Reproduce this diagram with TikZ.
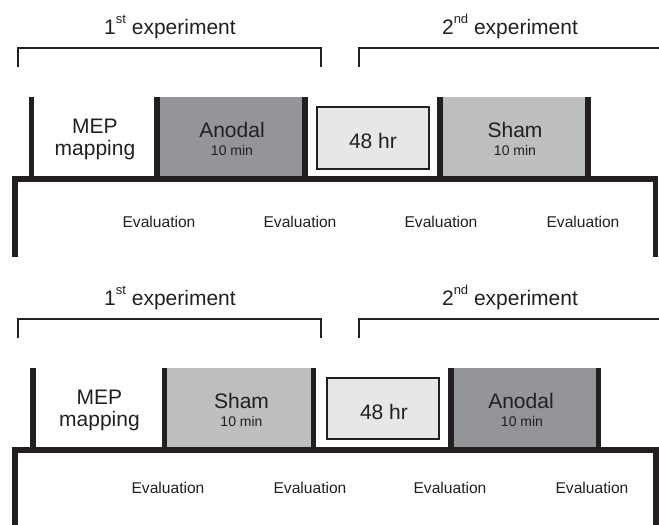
\documentclass[tikz,border=0pt]{standalone}
\usepackage{fontspec}
\setmainfont{Liberation Sans}
\definecolor{ink}{HTML}{231F20}
\definecolor{anodalgray}{HTML}{939598}
\definecolor{shamgray}{HTML}{BCBEC0}
\definecolor{restgray}{HTML}{E6E7E8}
% raised ordinal suffix (1st, 2nd)
\newcommand\expsup[1]{\raisebox{11pt}{\fontsize{13}{13}\selectfont #1}}

\begin{document}
\begin{tikzpicture}[x=1pt,y=-1pt,
  heavy/.style={line width=5.5pt, draw=ink, line join=miter},
  bracketline/.style={line width=1.4pt, draw=ink},
  cellbox/.style={inner sep=0pt, outer sep=0pt, minimum height=82pt},
  restbox/.style={inner sep=0pt, outer sep=0pt, minimum width=112pt, minimum height=62pt,
                  fill=restgray, draw=ink, line width=1.2pt},
  lbl/.style={text=ink, inner sep=0pt, anchor=base},
  bigtext/.style={font=\fontsize{21}{21}\selectfont},
  smalltext/.style={font=\fontsize{14}{14}\selectfont},
  evaltext/.style={font=\fontsize{15.6}{15.6}\selectfont},
]
\useasboundingbox (0,0) rectangle (659,525);

% ---------------- upper schedule: anodal first ----------------
\node[lbl,bigtext] (h1a) at (170,34) {1\expsup{st} experiment};
\node[lbl,bigtext] (h2a) at (510,34) {2\expsup{nd} experiment};
\coordinate (b1a-l) at (18,67);
\coordinate (b1a-r) at (321,67);
\draw[bracketline] (b1a-l) -- ++(0,-19) -| (b1a-r);
\coordinate (b2a-l) at (359,67);
\coordinate (b2a-r) at (659,48);
\draw[bracketline] (b2a-l) |- (b2a-r);

\node[cellbox, minimum width=125.5pt] (mep-a) at (94.25,138) {};
\node[cellbox, fill=anodalgray, minimum width=148pt] (an-a) at (231,138) {};
\node[restbox] (rest-a) at (373,138) {};
\node[cellbox, fill=shamgray, minimum width=148pt] (sh-a) at (514,138) {};

\draw[heavy] (mep-a.north west) -- (mep-a.south west);
\draw[heavy] (an-a.north west) -- (an-a.south west);
\draw[heavy] (an-a.north east) -- (an-a.south east);
\draw[heavy] (sh-a.north west) -- (sh-a.south west);
\draw[heavy] (sh-a.north east) -- (sh-a.south east);

\coordinate (base-a-l) at (15,257);
\coordinate (base-a-r) at (655.5,257);
\draw[heavy] (base-a-l) -- ++(0,-78) -- ++(640.5,0) -- (base-a-r);

\node[lbl,bigtext] (mep-a-t1) at (95,133) {MEP};
\node[lbl,bigtext] (mep-a-t2) at (95,155) {mapping};
\node[lbl,bigtext] (an-a-t1) at (232,137) {Anodal};
\node[lbl,smalltext] (an-a-t2) at (232,155.5) {10 min};
\node[lbl,bigtext] (rest-a-t) at (373,148) {48 hr};
\node[lbl,bigtext] (sh-a-t1) at (515,137) {Sham};
\node[lbl,smalltext] (sh-a-t2) at (515,155.5) {10 min};

\node[lbl,evaltext] (ev-a1) at (159,227.5) {Evaluation};
\node[lbl,evaltext] (ev-a2) at (300,227.5) {Evaluation};
\node[lbl,evaltext] (ev-a3) at (441,227.5) {Evaluation};
\node[lbl,evaltext] (ev-a4) at (583,227.5) {Evaluation};

% ---------------- lower schedule: sham first ----------------
\begin{scope}[shift={(0,271)}]
\node[lbl,bigtext] (h1b) at (170,34) {1\expsup{st} experiment};
\node[lbl,bigtext] (h2b) at (510,34) {2\expsup{nd} experiment};
\coordinate (b1b-l) at (18,67);
\coordinate (b1b-r) at (321,67);
\draw[bracketline] (b1b-l) -- ++(0,-19) -| (b1b-r);
\coordinate (b2b-l) at (359,67);
\coordinate (b2b-r) at (659,48);
\draw[bracketline] (b2b-l) |- (b2b-r);

\node[cellbox, minimum width=131.5pt] (mep-b) at (98.75,138) {};
\node[cellbox, fill=shamgray, minimum width=149pt] (sh-b) at (239,138) {};
\node[restbox, minimum height=61pt] (rest-b) at (383,137.5) {};
\node[cellbox, fill=anodalgray, minimum width=147.5pt] (an-b) at (524.75,138) {};

\draw[heavy] (mep-b.north west) -- (mep-b.south west);
\draw[heavy] (sh-b.north west) -- (sh-b.south west);
\draw[heavy] (sh-b.north east) -- (sh-b.south east);
\draw[heavy] (an-b.north west) -- (an-b.south west);
\draw[heavy] (an-b.north east) -- (an-b.south east);

\coordinate (base-b-l) at (15,254);
\coordinate (base-b-r) at (656,254);
\draw[heavy] (base-b-l) -- ++(0,-75) -- ++(641,0) -- (base-b-r);

\node[lbl,bigtext] (mep-b-t1) at (99.5,133) {MEP};
\node[lbl,bigtext] (mep-b-t2) at (99.5,155) {mapping};
\node[lbl,bigtext] (sh-b-t1) at (241.5,137) {Sham};
\node[lbl,smalltext] (sh-b-t2) at (241.5,155.5) {10 min};
\node[lbl,bigtext] (rest-b-t) at (384,148) {48 hr};
\node[lbl,bigtext] (an-b-t1) at (521,137) {Anodal};
\node[lbl,smalltext] (an-b-t2) at (522,155.5) {10 min};

\node[lbl,evaltext] (ev-b1) at (168,222) {Evaluation};
\node[lbl,evaltext] (ev-b2) at (310,222) {Evaluation};
\node[lbl,evaltext] (ev-b3) at (450,222) {Evaluation};
\node[lbl,evaltext] (ev-b4) at (592,222) {Evaluation};
\end{scope}
\end{tikzpicture}
\end{document}
